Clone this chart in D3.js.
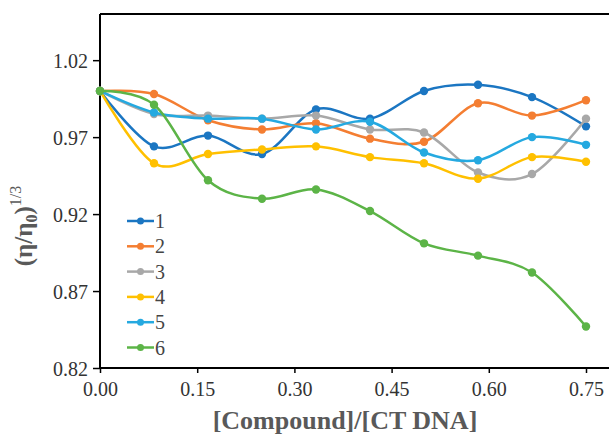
<!DOCTYPE html>
<html>
<head>
<meta charset="utf-8">
<script src="https://cdn.jsdelivr.net/npm/d3@7"></script>
<style>
  body { margin: 0; background: #fff; }
  svg { display: block; }
  text { font-family: "Liberation Serif", "Times New Roman", serif; }
</style>
</head>
<body>
<div id="chart"></div>
<script>
// ratio values (x) and the six compound series
const ratios = [0, 1/12, 2/12, 3/12, 4/12, 5/12, 6/12, 7/12, 8/12, 9/12];
const names = ["1", "2", "3", "4", "5", "6"];
const s1 = [1.000, 0.964, 0.971, 0.959, 0.988, 0.982, 1.000, 1.004, 0.996, 0.977];
const s2 = [1.000, 0.998, 0.981, 0.975, 0.979, 0.969, 0.967, 0.992, 0.984, 0.994];
const s3 = [1.000, 0.985, 0.984, 0.982, 0.984, 0.975, 0.973, 0.947, 0.946, 0.982];
const s4 = [1.000, 0.953, 0.959, 0.962, 0.964, 0.957, 0.953, 0.943, 0.957, 0.954];
const s5 = [1.000, 0.986, 0.982, 0.982, 0.975, 0.980, 0.960, 0.955, 0.970, 0.965];
const s6 = [1.000, 0.991, 0.942, 0.930, 0.936, 0.922, 0.901, 0.893, 0.882, 0.847];
const xTicks = [0, 0.15, 0.30, 0.45, 0.60, 0.75];
const yTicks = [0.82, 0.87, 0.92, 0.97, 1.02];

const seriesVals = [s1, s2, s3, s4, s5, s6];
const colors = ["#1B76C2", "#F47E32", "#A8A8A8", "#FFC000", "#25A9E0", "#5CB447"];

const W = 609, H = 435;
const padL = 100, padT = 14, padB = 368;

const svg = d3.select("#chart").append("svg")
  .attr("width", W).attr("height", H);

const x = d3.scaleLinear().domain([0, 0.8]).range([padL, padL + 0.8 * 648]);
const y = d3.scaleLinear().domain([0.82, 1.05]).range([padB, padT]);

// frame top line
svg.append("line")
  .attr("x1", padL).attr("x2", W + 5)
  .attr("y1", padT).attr("y2", padT)
  .attr("stroke", "#000").attr("stroke-width", 2);

const xAxis = svg.append("g")
  .attr("transform", `translate(0,${padB})`)
  .call(d3.axisBottom(x).tickValues(xTicks).tickSize(5).tickSizeOuter(0).tickFormat(d3.format(".2f")));

const yAxis = svg.append("g")
  .attr("transform", `translate(${padL},0)`)
  .call(d3.axisLeft(y).tickValues(yTicks).tickSize(7).tickSizeOuter(0).tickFormat(d3.format(".2f")));

[xAxis, yAxis].forEach(function(g) {
  g.attr("font-family", "Liberation Serif").attr("font-size", 20);
  g.select(".domain").attr("stroke", "#000").attr("stroke-width", 2);
  g.selectAll(".tick line").attr("stroke", "#000").attr("stroke-width", 1.5);
  g.selectAll(".tick text").attr("fill", "#333");
});
xAxis.select(".domain").attr("d", `M${padL},0H${W + 5}`);
xAxis.selectAll(".tick text").attr("dy", "1.05em").attr("y", 7);
yAxis.selectAll(".tick text").attr("x", -12).attr("dy", "0.35em");
yAxis.select(".domain").attr("d", `M0,${padB + 1}V${padT}`);

// smooth lines like the spreadsheet "smoothed line"
const line = d3.line()
  .x(function(d, i) { return x(ratios[i]); })
  .y(function(d) { return y(d); })
  .curve(d3.curveCatmullRom.alpha(0));

seriesVals.forEach(function(vals, k) {
  const g = svg.append("g");
  g.append("path")
    .attr("d", line(vals))
    .attr("fill", "none")
    .attr("stroke", colors[k])
    .attr("stroke-width", 2.5);
  g.selectAll("circle").data(vals).enter().append("circle")
    .attr("cx", function(d, i) { return x(ratios[i]); })
    .attr("cy", function(d) { return y(d); })
    .attr("r", 4.2)
    .attr("fill", colors[k]);
});

// legend
const legend = svg.append("g");
names.forEach(function(n, k) {
  const ly = 221 + k * 25.3;
  legend.append("line")
    .attr("x1", 127).attr("x2", 154)
    .attr("y1", ly).attr("y2", ly)
    .attr("stroke", colors[k]).attr("stroke-width", 2.5);
  legend.append("circle")
    .attr("cx", 140.5).attr("cy", ly).attr("r", 3.5)
    .attr("fill", colors[k]);
  legend.append("text")
    .attr("x", 155).attr("y", ly + 7)
    .attr("fill", "#444")
    .style("font-size", "20px")
    .text(n);
});

// axis titles
svg.append("text")
  .attr("x", 345).attr("y", 429)
  .attr("text-anchor", "middle")
  .attr("fill", "#595959")
  .style("font-size", "26px")
  .style("font-weight", "bold")
  .text("[Compound]/[CT DNA]");

const yt = svg.append("text")
  .attr("transform", "translate(32,226) rotate(-90)")
  .attr("text-anchor", "middle")
  .attr("fill", "#595959")
  .style("font-size", "25px")
  .style("font-weight", "bold");
yt.append("tspan").text("(η/η");
yt.append("tspan").attr("dy", 5).style("font-size", "16px").text("0");
yt.append("tspan").attr("dy", -5).text(")");
yt.append("tspan").attr("dy", -11).style("font-size", "16px").style("font-weight", "normal").text("1/3");
</script>
</body>
</html>
